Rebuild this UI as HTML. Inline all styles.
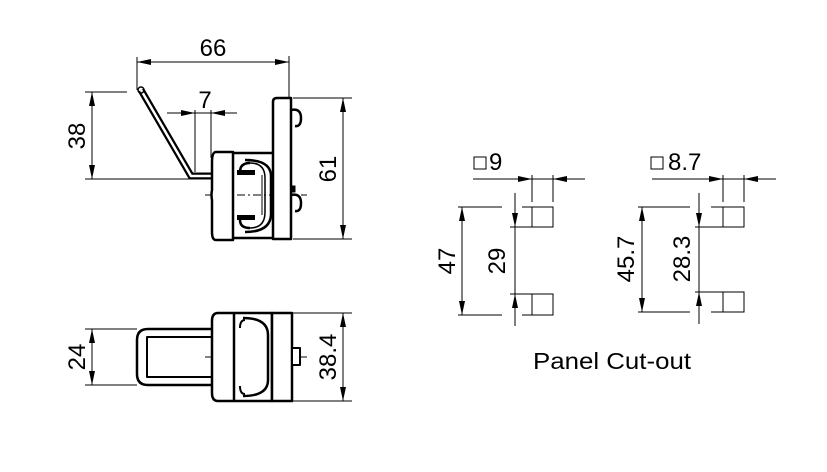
<!DOCTYPE html>
<html><head><meta charset="utf-8"><style>
html,body{margin:0;padding:0;background:#fff;}
svg{display:block;}
text{font-family:"Liberation Sans","DejaVu Sans",sans-serif;fill:#000;}
</style></head><body>
<svg width="827" height="472" viewBox="0 0 827 472" xmlns="http://www.w3.org/2000/svg">
<defs>
<marker id="a" viewBox="0 0 14 6" refX="14" refY="3" markerWidth="14" markerHeight="6" markerUnits="userSpaceOnUse" orient="auto-start-reverse"><path d="M0,0L14,3L0,6z" fill="#000"/></marker>
</defs>
<g stroke="#000" stroke-width="1" fill="none">
<line x1="137" y1="62" x2="289" y2="62" marker-start="url(#a)" marker-end="url(#a)"/>
<line x1="137" y1="57" x2="137" y2="90"/>
<line x1="289" y1="56" x2="289" y2="97"/>
<line x1="92" y1="92" x2="92" y2="179" marker-start="url(#a)" marker-end="url(#a)"/>
<line x1="85" y1="92" x2="127" y2="92"/>
<line x1="85" y1="179" x2="192" y2="179"/>
<line x1="167" y1="113" x2="195" y2="113" marker-end="url(#a)"/>
<line x1="237" y1="113" x2="211" y2="113" marker-end="url(#a)"/>
<line x1="195" y1="113" x2="211" y2="113"/>
<line x1="195" y1="110" x2="195" y2="172"/>
<line x1="211" y1="110" x2="211" y2="158"/>
<line x1="343" y1="98" x2="343" y2="239" marker-start="url(#a)" marker-end="url(#a)"/>
<line x1="293" y1="98" x2="352" y2="98"/>
<line x1="293" y1="239" x2="352" y2="239"/>
<line x1="205" y1="195" x2="307" y2="195" stroke-dasharray="8,3,2,3"/>
<line x1="205" y1="357" x2="307" y2="357" stroke-dasharray="8,3,2,3"/>
<line x1="92" y1="329" x2="92" y2="385" marker-start="url(#a)" marker-end="url(#a)"/>
<line x1="85" y1="329" x2="137" y2="329"/>
<line x1="85" y1="385" x2="137" y2="385"/>
<line x1="343" y1="313" x2="343" y2="401" marker-start="url(#a)" marker-end="url(#a)"/>
<line x1="293" y1="313" x2="352" y2="313"/>
<line x1="293" y1="401" x2="352" y2="401"/>
</g>
<g stroke="#000" fill="none" stroke-linejoin="round">
<path d="M141,90 L191,176 L212,176" stroke-width="7"/>
<path d="M141,90 L191,176 L212,176" stroke="#fff" stroke-width="2.5"/>
<circle cx="141" cy="90" r="3" stroke-width="1.5"/>
<path d="M273,239 L273,102 Q273,98 277,98 L291,98 L291,239 Z" stroke-width="2.5" fill="#fff"/>
<path d="M291,110 Q301,108 301,118 Q301,127 295,126" stroke-width="2.5"/>
<path d="M291,195 Q301,193 301,203 Q301,212 295,211" stroke-width="2.5"/>
<rect x="291" y="186" width="4" height="6" fill="#000" stroke-width="1"/>
<path d="M216,152 L233,152 L233,240 L216,240 Q212,240 212,232 L212,200 Q211,195 212,190 L212,162 Q212,152 216,152 Z" stroke-width="2.5" fill="#fff"/>
<path d="M233,153 L273,153 M233,238 L273,238" stroke-width="2.5"/>
<path d="M250,163 Q240,163 240,172 M250,228 Q240,228 240,220" stroke-width="2.5"/>
<path d="M245,160 Q270,160 271,175 L271,215 Q270,232 245,232" stroke-width="2.5"/>
<path d="M250,163 Q265,163 265,178 L265,212 Q265,228 250,228" stroke-width="1.5"/>
<rect x="237" y="170" width="18" height="5" fill="#000" stroke-width="0"/>
<rect x="237" y="215" width="18" height="5" fill="#000" stroke-width="0"/>
<line x1="262" y1="175" x2="262" y2="215" stroke-width="1"/>
</g>
<g stroke="#000" fill="none" stroke-width="2.5" stroke-linejoin="round">
<path d="M212,329 L148,329 Q137,329 137,340 L137,374 Q137,385 148,385 L212,385" />
<rect x="147" y="337" width="65" height="40" stroke-width="2"/>
<path d="M218,313 L272,313 L272,401 L218,401 Q212,401 212,393 L212,321 Q212,313 218,313 Z" fill="#fff"/>
<line x1="234" y1="313" x2="234" y2="401"/>
<rect x="272" y="313" width="20" height="88" fill="#fff"/>
<path d="M245,320 Q240,320 240,328 M245,394 Q240,394 240,386" stroke-width="2"/>
<path d="M243,318 Q268,318 268,335 L268,380 Q268,396 243,396" />
<rect x="292" y="348" width="8" height="17" stroke-width="2" fill="#fff"/>
</g>
<g stroke="#000" stroke-width="1" fill="none">
<line x1="473" y1="179" x2="532" y2="179" marker-end="url(#a)"/>
<line x1="585" y1="179" x2="553" y2="179" marker-end="url(#a)"/>
<line x1="532" y1="179" x2="553" y2="179"/>
<line x1="532" y1="175" x2="532" y2="202"/>
<line x1="553" y1="175" x2="553" y2="202"/>
<rect x="532" y="207" width="21" height="20"/>
<rect x="532" y="294" width="21" height="21"/>
<line x1="462" y1="207" x2="462" y2="315" marker-start="url(#a)" marker-end="url(#a)"/>
<line x1="458" y1="207" x2="502" y2="207"/>
<line x1="458" y1="315" x2="502" y2="315"/>
<line x1="522" y1="207" x2="532" y2="207"/>
<line x1="522" y1="315" x2="532" y2="315"/>
<line x1="510" y1="227" x2="532" y2="227"/>
<line x1="510" y1="294" x2="532" y2="294"/>
<line x1="515" y1="193" x2="515" y2="227" marker-end="url(#a)"/>
<line x1="515" y1="326" x2="515" y2="294" marker-end="url(#a)"/>
<line x1="515" y1="227" x2="515" y2="294"/>
<line x1="652" y1="179" x2="723" y2="179" marker-end="url(#a)"/>
<line x1="776" y1="179" x2="744" y2="179" marker-end="url(#a)"/>
<line x1="723" y1="179" x2="744" y2="179"/>
<line x1="723" y1="175" x2="723" y2="202"/>
<line x1="744" y1="175" x2="744" y2="202"/>
<rect x="723" y="207" width="21" height="20"/>
<rect x="723" y="292" width="21" height="20"/>
<line x1="642" y1="207" x2="642" y2="312" marker-start="url(#a)" marker-end="url(#a)"/>
<line x1="638" y1="207" x2="690" y2="207"/>
<line x1="638" y1="312" x2="690" y2="312"/>
<line x1="711" y1="207" x2="723" y2="207"/>
<line x1="711" y1="312" x2="723" y2="312"/>
<line x1="695" y1="227" x2="723" y2="227"/>
<line x1="695" y1="292" x2="723" y2="292"/>
<line x1="699" y1="193" x2="699" y2="227" marker-end="url(#a)"/>
<line x1="699" y1="324" x2="699" y2="292" marker-end="url(#a)"/>
<line x1="699" y1="227" x2="699" y2="292"/>
<rect x="474" y="157" width="12" height="12"/>
<rect x="651" y="157" width="12" height="12"/>
</g>
<g font-size="24">
<text x="213" y="56" text-anchor="middle">66</text>
<text x="205" y="108" text-anchor="middle">7</text>
<text transform="translate(85,136) rotate(-90)" text-anchor="middle">38</text>
<text transform="translate(336,169) rotate(-90)" text-anchor="middle">61</text>
<text transform="translate(85,357) rotate(-90)" text-anchor="middle">24</text>
<text transform="translate(336,357) rotate(-90)" text-anchor="middle">38.4</text>
<text x="489" y="170">9</text>
<text x="668" y="170">8.7</text>
<text transform="translate(455,261) rotate(-90)" text-anchor="middle">47</text>
<text transform="translate(505,261) rotate(-90)" text-anchor="middle">29</text>
<text transform="translate(634,259) rotate(-90)" text-anchor="middle">45.7</text>
<text transform="translate(690,259) rotate(-90)" text-anchor="middle">28.3</text>
<text x="533" y="369" font-size="23" textLength="158" lengthAdjust="spacingAndGlyphs">Panel Cut-out</text>
</g>
</svg>
</body></html>
